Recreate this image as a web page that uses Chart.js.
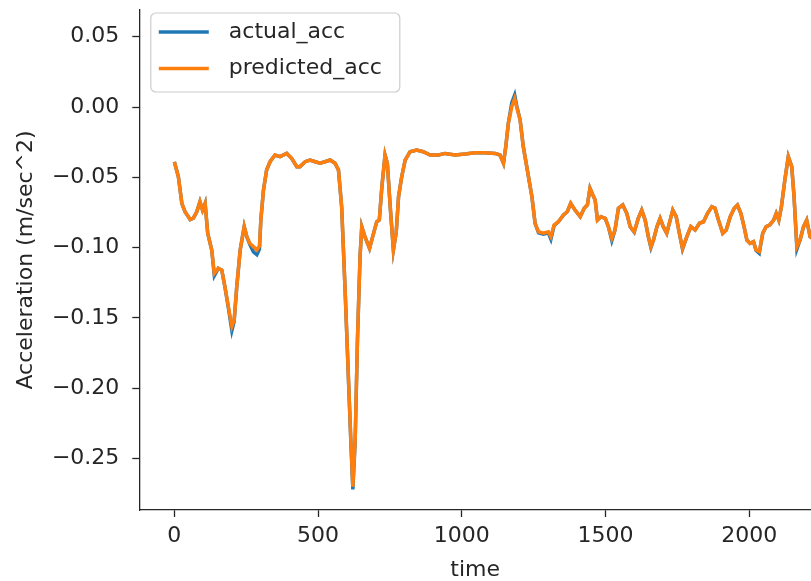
<!DOCTYPE html>
<html>
<head>
<meta charset="utf-8">
<script src="https://cdn.jsdelivr.net/npm/chart.js@4.4.1/dist/chart.umd.min.js"></script>
<style>
  html, body { margin: 0; padding: 0; background: #ffffff; }
  #wrap { width: 811px; height: 581px; }
</style>
</head>
<body>
<div id="wrap"><canvas id="c" width="811" height="581"></canvas></div>
<script>
// ---- data ----
const timeValues = [0,14,26,37,55,66,78,89,98,107,116,130,139,153,165,176,188,200,208,217,229,243,252,263,275,287,296,301,310,321,333,350,368,391,408,426,437,455,472,490,507,524,542,559,571,582,594,605,614,621,629,637,646,652,663,679,690,704,713,722,733,741,751,762,772,780,791,803,820,843,866,890,919,942,977,1011,1046,1081,1116,1133,1145,1153,1162,1174,1184,1191,1203,1214,1226,1244,1255,1267,1284,1301,1310,1321,1336,1354,1367,1379,1394,1412,1426,1437,1446,1456,1464,1472,1484,1499,1510,1522,1533,1545,1560,1574,1586,1600,1614,1626,1638,1649,1658,1667,1679,1690,1701,1713,1725,1734,1746,1757,1768,1783,1797,1812,1827,1841,1855,1870,1881,1893,1908,1920,1934,1948,1959,1971,1982,1992,2003,2015,2024,2035,2047,2059,2071,2085,2094,2103,2112,2124,2136,2148,2156,2166,2177,2189,2200,2212,2230];

const actualAcc = [-0.039,-0.0496,-0.0685,-0.0745,-0.080,-0.079,-0.0745,-0.0673,-0.0733,-0.0685,-0.0898,-0.1017,-0.120,-0.1147,-0.116,-0.128,-0.143,-0.159,-0.1525,-0.128,-0.1017,-0.0851,-0.0922,-0.098,-0.103,-0.105,-0.101,-0.080,-0.059,-0.0448,-0.0389,-0.0341,-0.0353,-0.033,-0.0365,-0.0424,-0.0424,-0.0389,-0.0377,-0.0389,-0.040,-0.0389,-0.0377,-0.040,-0.0448,-0.0709,-0.130,-0.190,-0.238,-0.272,-0.238,-0.1657,-0.1065,-0.0851,-0.0922,-0.1005,-0.0922,-0.0816,-0.0804,-0.0567,-0.0341,-0.040,-0.0709,-0.1017,-0.089,-0.0638,-0.0496,-0.0377,-0.0318,-0.0306,-0.0318,-0.0341,-0.0341,-0.033,-0.0341,-0.0334,-0.0325,-0.0325,-0.033,-0.0341,-0.040,-0.0282,-0.0116,0.003,0.0085,0.001,-0.0092,-0.0282,-0.0424,-0.0638,-0.0827,-0.0895,-0.0905,-0.0895,-0.094,-0.0845,-0.0816,-0.0768,-0.0745,-0.0685,-0.0733,-0.078,-0.072,-0.0697,-0.0578,-0.0626,-0.0661,-0.0804,-0.078,-0.0792,-0.0851,-0.095,-0.0875,-0.072,-0.0697,-0.0756,-0.0851,-0.089,-0.0792,-0.0733,-0.0804,-0.0922,-0.1,-0.0946,-0.0851,-0.0792,-0.0851,-0.0898,-0.0804,-0.0733,-0.078,-0.0898,-0.101,-0.0922,-0.0851,-0.0875,-0.0827,-0.0816,-0.0756,-0.0709,-0.072,-0.0804,-0.0898,-0.0875,-0.078,-0.072,-0.0697,-0.0756,-0.0851,-0.0946,-0.097,-0.0958,-0.102,-0.104,-0.0898,-0.0851,-0.0839,-0.0804,-0.0756,-0.0804,-0.0709,-0.0519,-0.0353,-0.0424,-0.0638,-0.101,-0.0946,-0.0851,-0.0804,-0.0922,-0.095];

const predictedAcc = [-0.039,-0.0496,-0.0685,-0.0745,-0.080,-0.079,-0.0745,-0.0673,-0.0733,-0.0685,-0.0898,-0.1017,-0.1183,-0.1147,-0.116,-0.128,-0.142,-0.156,-0.1515,-0.128,-0.1017,-0.0851,-0.0922,-0.097,-0.0993,-0.1017,-0.099,-0.080,-0.059,-0.0448,-0.0389,-0.0341,-0.0353,-0.033,-0.0365,-0.0424,-0.0424,-0.0389,-0.0377,-0.0389,-0.040,-0.0389,-0.0377,-0.040,-0.0448,-0.0709,-0.130,-0.189,-0.2368,-0.270,-0.2368,-0.1657,-0.1065,-0.0851,-0.0922,-0.1005,-0.0922,-0.0816,-0.0804,-0.0567,-0.0341,-0.040,-0.0709,-0.1017,-0.089,-0.0638,-0.0496,-0.0377,-0.0318,-0.0306,-0.0318,-0.0341,-0.0341,-0.033,-0.0341,-0.0334,-0.0325,-0.0325,-0.033,-0.0341,-0.040,-0.0282,-0.0116,0.0002,0.006,0.0,-0.0092,-0.0282,-0.0424,-0.0638,-0.0827,-0.0887,-0.0898,-0.0887,-0.0922,-0.0839,-0.0816,-0.0768,-0.0745,-0.0685,-0.0733,-0.078,-0.072,-0.0697,-0.0578,-0.0626,-0.0661,-0.0804,-0.078,-0.0792,-0.0851,-0.0934,-0.0875,-0.072,-0.0697,-0.0756,-0.0851,-0.0887,-0.0792,-0.0733,-0.0804,-0.0922,-0.0993,-0.0946,-0.0851,-0.0792,-0.0851,-0.0898,-0.0804,-0.0733,-0.078,-0.0898,-0.1005,-0.0922,-0.0851,-0.0875,-0.0827,-0.0816,-0.0756,-0.0709,-0.072,-0.0804,-0.0898,-0.0875,-0.078,-0.072,-0.0697,-0.0756,-0.0851,-0.0946,-0.097,-0.0958,-0.1017,-0.1029,-0.0898,-0.0851,-0.0839,-0.0804,-0.0756,-0.0804,-0.0709,-0.0519,-0.0353,-0.0424,-0.0638,-0.0993,-0.0946,-0.0851,-0.0804,-0.0922,-0.095];

const seriesNames = ['actual_acc', 'predicted_acc'];
const xTickValues = [0, 500, 1000, 1500, 2000];
const yTickValues = [-0.25, -0.20, -0.15, -0.10, -0.05, 0.00, 0.05];
const xTitle = 'time';
const yTitle = 'Acceleration (m/sec^2)';

// ---- chart ----
const FONT = "'DejaVu Sans', sans-serif";
const FS = 22;
const TEXT = '#262626';
const AXIS = '#262626';

function toPoints(xs, ys) { return xs.map((x, i) => ({ x: x, y: ys[i] })); }

function fmtY(v) {
  const s = Math.abs(v).toFixed(2);
  return (v < -1e-9 ? '\u2212' : '') + s;
}

const legendBox = {
  id: 'legendBox',
  afterDraw(chart) {
    const ctx = chart.ctx;
    const ca = chart.chartArea;
    const x0 = ca.left + 11.5, y0 = ca.top + 3, w = 249, h = 79, r = 5;
    ctx.save();
    ctx.beginPath();
    ctx.moveTo(x0 + r, y0);
    ctx.arcTo(x0 + w, y0, x0 + w, y0 + h, r);
    ctx.arcTo(x0 + w, y0 + h, x0, y0 + h, r);
    ctx.arcTo(x0, y0 + h, x0, y0, r);
    ctx.arcTo(x0, y0, x0 + w, y0, r);
    ctx.closePath();
    ctx.fillStyle = 'rgba(255,255,255,0.8)';
    ctx.fill();
    ctx.strokeStyle = '#cccccc';
    ctx.lineWidth = 1.2;
    ctx.stroke();
    const rows = [y0 + 19, y0 + 55.5];
    chart.data.datasets.forEach((ds, i) => {
      const yy = rows[i];
      ctx.beginPath();
      ctx.moveTo(x0 + 8, yy);
      ctx.lineTo(x0 + 58, yy);
      ctx.strokeStyle = ds.borderColor;
      ctx.lineWidth = 3.5;
      ctx.stroke();
      ctx.fillStyle = TEXT;
      ctx.font = FS + 'px ' + FONT;
      ctx.textBaseline = 'middle';
      ctx.textAlign = 'left';
      ctx.fillText(ds.label, x0 + 78, yy);
    });
    ctx.restore();
  }
};

new Chart(document.getElementById('c'), {
  type: 'line',
  data: {
    datasets: [
      { label: seriesNames[0], data: toPoints(timeValues, actualAcc), borderColor: '#1f77b4', backgroundColor: '#1f77b4', borderWidth: 3.5, pointRadius: 0, tension: 0, order: 2 },
      { label: seriesNames[1], data: toPoints(timeValues, predictedAcc), borderColor: '#ff7f0e', backgroundColor: '#ff7f0e', borderWidth: 3.5, pointRadius: 0, tension: 0, order: 1 }
    ]
  },
  options: {
    responsive: false,
    animation: false,
    events: [],
    layout: { padding: { top: 10, right: 0, left: 0, bottom: 0 } },
    plugins: { legend: { display: false }, tooltip: { enabled: false } },
    scales: {
      x: {
        type: 'linear',
        min: -122, max: 2215,
        afterFit(s) { s.height = 71; s.paddingLeft = 0; s.paddingRight = 0; },
        afterBuildTicks(s) { s.ticks = xTickValues.map(v => ({ value: v })); },
        ticks: { color: TEXT, font: { family: FONT, size: FS }, padding: 6, maxRotation: 0, callback: v => String(v) },
        grid: { display: true, drawOnChartArea: false, drawTicks: true, tickLength: 7, tickWidth: 1.3, tickColor: AXIS },
        border: { display: true, color: AXIS, width: 1.3 },
        title: { display: true, text: xTitle, color: TEXT, font: { family: FONT, size: FS, lineHeight: 1.0 }, padding: { top: 0, bottom: 0 } }
      },
      y: {
        type: 'linear',
        min: -0.2866, max: 0.069,
        afterFit(s) { s.width = 139.3; s.paddingTop = 0; s.paddingBottom = 0; },
        afterBuildTicks(s) { s.ticks = yTickValues.map(v => ({ value: v })); },
        ticks: { color: TEXT, font: { family: FONT, size: FS }, padding: 13, callback: v => fmtY(v) },
        grid: { display: true, drawOnChartArea: false, drawTicks: true, tickLength: 7, tickWidth: 1.3, tickColor: AXIS },
        border: { display: true, color: AXIS, width: 1.3 },
        title: { display: true, text: yTitle, color: TEXT, font: { family: FONT, size: FS, lineHeight: 1.0 }, padding: { top: 15.5, bottom: 0 } }
      }
    }
  },
  plugins: [legendBox]
});
</script>
</body>
</html>
